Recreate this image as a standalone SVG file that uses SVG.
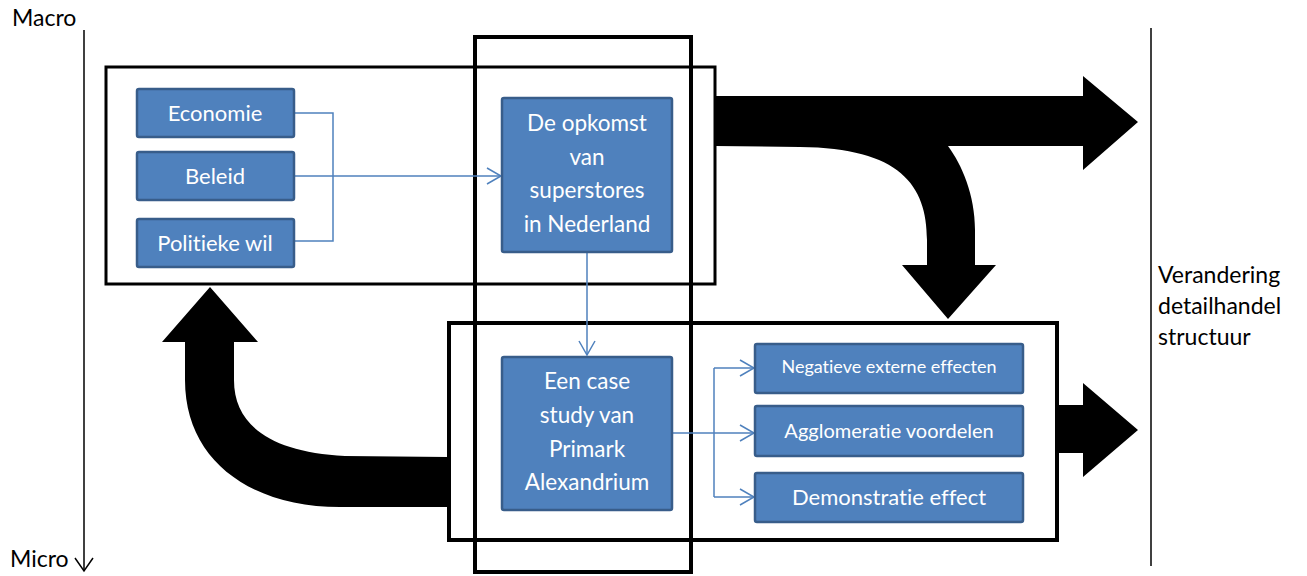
<svg xmlns="http://www.w3.org/2000/svg" width="1307" height="576" viewBox="0 0 1307 576">
<style>
  .frame{fill:none;stroke:#000;}
  .node rect{fill:#4F81BD;stroke:#385D8A;stroke-width:2.5;}
  .node text{fill:#fff;font-family:Lato,"Liberation Sans",sans-serif;text-anchor:middle;font-variant-ligatures:none;}
  .lbl{fill:#000;font-family:Lato,"Liberation Sans",sans-serif;font-size:23px;}
  .conn{fill:none;stroke:#4F81BD;stroke-width:1.5;}
  .big{fill:#000;}
</style>
<defs>
  <marker id="open" markerUnits="userSpaceOnUse" markerWidth="16" markerHeight="18" refX="14" refY="8" orient="auto" overflow="visible">
    <path d="M0,0 L14,8 L0,16" fill="none" stroke="#4F81BD" stroke-width="1.5"/>
  </marker>
</defs>
<rect width="1307" height="576" fill="#fff"/>

<g id="axes">
  <line x1="84" y1="30" x2="84" y2="571" stroke="#000" stroke-width="1.5"/>
  <path d="M75,558 L84,571 L93,558" fill="none" stroke="#000" stroke-width="1.5"/>
  <text class="lbl" x="12" y="26">Macro</text>
  <text class="lbl" x="10" y="567">Micro</text>
  <line x1="1151" y1="28" x2="1151" y2="566" stroke="#000" stroke-width="1.5"/>
  <text class="lbl" x="1158" y="283">Verandering</text>
  <text class="lbl" x="1158" y="314">detailhandel</text>
  <text class="lbl" x="1158" y="345">structuur</text>
</g>

<g id="frames">
  <rect class="frame" x="106" y="67" width="609" height="217" stroke-width="3"/>
  <rect class="frame" x="475" y="37" width="216" height="535" stroke-width="4"/>
  <rect class="frame" x="449" y="323" width="608" height="217" stroke-width="4"/>
</g>

<g id="big-arrows">
  <path class="big" d="M715,96 H1083 V76 L1138,122 L1083,170 V146 H948 C962,165 975,195 975,230 V265 H996 L948,319 L902,265 H927 V240 C927,185 900,148 800,147 L715,146 Z"/>
  <path class="big" d="M1057,405 H1083 V383 L1138,430 L1083,477 V453 H1057 Z"/>
  <path class="big" d="M448,457 L345,456 C270,452 234,425 234,380 V342 H258 L210,287 L162,342 H185 V380 C185,460 250,507 340,507 L448,507 Z"/>
</g>

<g id="connectors">
  <path class="conn" d="M294,113 H333 V241 H294"/>
  <path class="conn" d="M294,176 H501" marker-end="url(#open)"/>
  <path class="conn" d="M587,252 V355" marker-end="url(#open)"/>
  <path class="conn" d="M672,433 H714"/>
  <path class="conn" d="M714,368 V497"/>
  <path class="conn" d="M714,368 H754" marker-end="url(#open)"/>
  <path class="conn" d="M714,433 H754" marker-end="url(#open)"/>
  <path class="conn" d="M714,497 H754" marker-end="url(#open)"/>
</g>

<g id="economie" class="node">
  <rect x="137" y="89" width="157" height="48" rx="2"/>
  <text x="215" y="121" font-size="22">Economie</text>
</g>
<g id="beleid" class="node">
  <rect x="137" y="152" width="157" height="48" rx="2"/>
  <text x="215" y="184" font-size="22">Beleid</text>
</g>
<g id="politieke-wil" class="node">
  <rect x="137" y="219" width="157" height="48" rx="2"/>
  <text x="215" y="251" font-size="22">Politieke wil</text>
</g>
<g id="opkomst" class="node">
  <rect x="502" y="98" width="170" height="154" rx="2"/>
  <text x="587" y="131" font-size="22.5">De opkomst</text>
  <text x="587" y="165" font-size="22.5">van</text>
  <text x="587" y="198" font-size="22.5">superstores</text>
  <text x="587" y="232" font-size="22.5">in Nederland</text>
</g>
<g id="case-study" class="node">
  <rect x="502" y="357" width="170" height="153" rx="2"/>
  <text x="587" y="389" font-size="22.5">Een case</text>
  <text x="587" y="423" font-size="22.5">study van</text>
  <text x="587" y="457" font-size="22.5">Primark</text>
  <text x="587" y="490" font-size="22.5">Alexandrium</text>
</g>
<g id="negatieve" class="node">
  <rect x="755" y="344" width="268" height="49" rx="2"/>
  <text x="889" y="373" font-size="18">Negatieve externe effecten</text>
</g>
<g id="agglomeratie" class="node">
  <rect x="755" y="406" width="268" height="50" rx="2"/>
  <text x="889" y="438" font-size="20">Agglomeratie voordelen</text>
</g>
<g id="demonstratie" class="node">
  <rect x="755" y="473" width="268" height="49" rx="2"/>
  <text x="889" y="505" font-size="22">Demonstratie effect</text>
</g>
</svg>
